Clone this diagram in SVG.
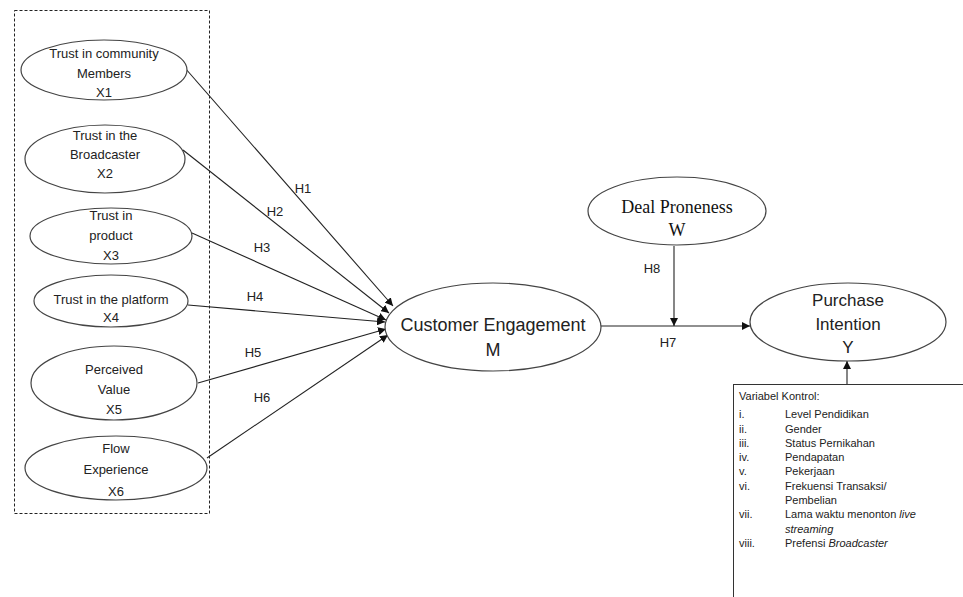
<svg xmlns="http://www.w3.org/2000/svg" width="963" height="597" viewBox="0 0 963 597">
<style>
.e{fill:#fff;stroke:#444;stroke-width:1.2}
.t{font-family:"Liberation Sans","Open Sans",sans-serif;font-size:13px;fill:#222;text-anchor:middle;dominant-baseline:central}
.s{font-family:"Liberation Serif","Times New Roman",serif;font-size:18px;fill:#111;text-anchor:middle;dominant-baseline:central}
.c{stroke:#222;stroke-width:1.1;fill:none}
.h{font-family:"Liberation Sans","Open Sans",sans-serif;font-size:13px;fill:#222;text-anchor:middle;dominant-baseline:central}
.k{font-family:"Liberation Sans","Open Sans",sans-serif;font-size:11px;fill:#222;dominant-baseline:central}
</style>
<defs>
<marker id="ar" viewBox="0 0 10 10" refX="10" refY="5" markerWidth="8" markerHeight="8" markerUnits="userSpaceOnUse" orient="auto">
<path d="M0,0 L10,5 L0,10 z" fill="#111"/>
</marker>
</defs>
<rect width="963" height="597" fill="#fff"/>
<rect x="14.5" y="10.5" width="195" height="503" fill="none" stroke="#222" stroke-width="1" stroke-dasharray="3,2"/>

<g id="connectors">
<line class="c" x1="185" y1="68" x2="393" y2="306" marker-end="url(#ar)"/>
<line class="c" x1="183" y1="150" x2="389" y2="313" marker-end="url(#ar)"/>
<line class="c" x1="192" y1="233" x2="386" y2="320" marker-end="url(#ar)"/>
<line class="c" x1="188" y1="305" x2="385" y2="322" marker-end="url(#ar)"/>
<line class="c" x1="198" y1="383" x2="386" y2="329" marker-end="url(#ar)"/>
<line class="c" x1="207" y1="458" x2="388" y2="335" marker-end="url(#ar)"/>
<line class="c" x1="600" y1="326" x2="750" y2="326" marker-end="url(#ar)"/>
<line class="c" x1="674" y1="246" x2="674" y2="326" marker-end="url(#ar)"/>
<line class="c" x1="847" y1="384" x2="847" y2="361" marker-end="url(#ar)"/>
<text class="h" x="303" y="188">H1</text>
<text class="h" x="275" y="211">H2</text>
<text class="h" x="262" y="247">H3</text>
<text class="h" x="255" y="296">H4</text>
<text class="h" x="253" y="352">H5</text>
<text class="h" x="262" y="397">H6</text>
<text class="h" x="652" y="268">H8</text>
<text class="h" x="668" y="342">H7</text>
</g>

<g id="x1">
<ellipse class="e" cx="104" cy="70" rx="83" ry="30"/>
<text class="t" x="104" y="53">Trust in community</text>
<text class="t" x="104" y="73">Members</text>
<text class="t" x="104" y="92">X1</text>
</g>
<g id="x2">
<ellipse class="e" cx="105" cy="159" rx="80" ry="34"/>
<text class="t" x="105" y="135">Trust in the</text>
<text class="t" x="105" y="154">Broadcaster</text>
<text class="t" x="105" y="173">X2</text>
</g>
<g id="x3">
<ellipse class="e" cx="111" cy="236" rx="81" ry="28"/>
<text class="t" x="111" y="215">Trust in</text>
<text class="t" x="111" y="235">product</text>
<text class="t" x="111" y="255">X3</text>
</g>
<g id="x4">
<ellipse class="e" cx="111" cy="301" rx="77" ry="26"/>
<text class="t" x="111" y="299">Trust in the platform</text>
<text class="t" x="111" y="317">X4</text>
</g>
<g id="x5">
<ellipse class="e" cx="114" cy="383" rx="83" ry="37"/>
<text class="t" x="114" y="369">Perceived</text>
<text class="t" x="114" y="389">Value</text>
<text class="t" x="114" y="409">X5</text>
</g>
<g id="x6">
<ellipse class="e" cx="116" cy="468" rx="91" ry="32"/>
<text class="t" x="116" y="448">Flow</text>
<text class="t" x="116" y="469">Experience</text>
<text class="t" x="116" y="491">X6</text>
</g>

<g id="m">
<ellipse class="e" cx="493" cy="327" rx="108" ry="44"/>
<text class="t" x="493" y="325" style="font-size:18px">Customer Engagement</text>
<text class="t" x="493" y="350" style="font-size:18px">M</text>
</g>
<g id="w">
<ellipse class="e" cx="677" cy="211" rx="89" ry="34"/>
<text class="s" x="677" y="207">Deal Proneness</text>
<text class="s" x="677" y="230">W</text>
</g>
<g id="y">
<ellipse class="e" cx="848" cy="322" rx="98" ry="39"/>
<text class="t" x="848" y="300" style="font-size:17px">Purchase</text>
<text class="t" x="848" y="324" style="font-size:17px">Intention</text>
<text class="t" x="848" y="347" style="font-size:17px">Y</text>
</g>

<g id="control">
<rect x="733.5" y="384.5" width="240" height="230" fill="#fff" stroke="#333" stroke-width="1"/>
<text class="k" x="739" y="396">Variabel Kontrol:</text>
<text class="k" x="739" y="414">i.</text><text class="k" x="785" y="414">Level Pendidikan</text>
<text class="k" x="739" y="428.5">ii.</text><text class="k" x="785" y="428.5">Gender</text>
<text class="k" x="739" y="443">iii.</text><text class="k" x="785" y="443">Status Pernikahan</text>
<text class="k" x="739" y="457">iv.</text><text class="k" x="785" y="457">Pendapatan</text>
<text class="k" x="739" y="471">v.</text><text class="k" x="785" y="471">Pekerjaan</text>
<text class="k" x="739" y="485.5">vi.</text><text class="k" x="785" y="485.5">Frekuensi Transaksi/</text>
<text class="k" x="785" y="500">Pembelian</text>
<text class="k" x="739" y="514">vii.</text><text class="k" x="785" y="514">Lama waktu menonton <tspan font-style="italic">live</tspan></text>
<text class="k" x="785" y="528.5" font-style="italic">streaming</text>
<text class="k" x="739" y="543">viii.</text><text class="k" x="785" y="543">Prefensi <tspan font-style="italic">Broadcaster</tspan></text>
</g>
</svg>
